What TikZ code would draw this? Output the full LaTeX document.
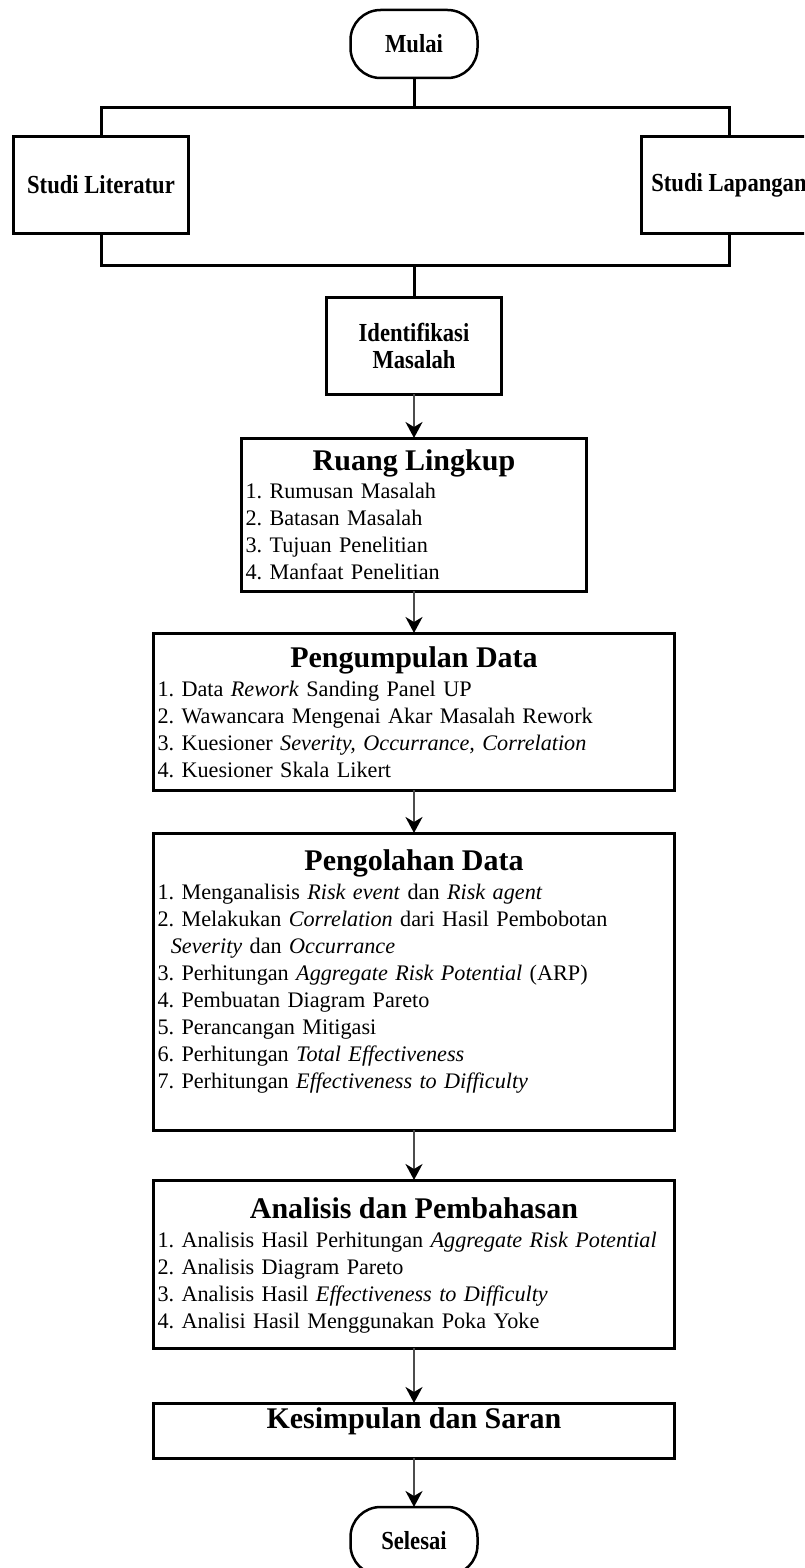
\documentclass[tikz,border=0pt]{standalone}
\usepackage{fontspec}
\setmainfont{Liberation Serif}
\newfontfamily\narrowserif[FakeStretch=0.87]{Liberation Serif}
\usepackage{tikz}
\usetikzlibrary{arrows.meta}
\usetikzlibrary{positioning}

\newcommand{\ttl}{\fontsize{30}{36}\selectfont\bfseries}
\newcommand{\itm}{\fontsize{22.2}{27}\selectfont}
\newcommand{\lbl}{\narrowserif\fontsize{26}{27}\selectfont\bfseries}
\frenchspacing

\begin{document}
\begin{tikzpicture}[x=1pt, y=-1pt,
    terminal/.style={draw, line width=2.5pt, outer sep=0pt, rounded corners=30pt, minimum width=127pt, minimum height=68pt, font=\lbl},
    smallbox/.style={draw, line width=3pt, outer sep=0pt, minimum width=175pt, minimum height=97pt, align=center, font=\lbl},
    listbox/.style={draw, line width=3pt, outer sep=0pt, text width=513pt, inner xsep=4pt, inner ysep=0pt, align=left, font=\itm},
    bar/.style={line width=3pt},
    flow/.style={line width=2pt, draw=black!70, -{Stealth[length=16pt, width=17pt, inset=5pt, color=black]}}]
  \useasboundingbox (0,0) rectangle (804,1568);
  \clip (0,0) rectangle (804,1568);

  \node (mulai) [terminal] at (414,44) {Mulai};
  \coordinate (split) at (414,108);
  \node (lit) [smallbox] at (101,185) {Studi Literatur};
  \node (lap) [smallbox] at (729,185) {Studi Lapangan};
  \coordinate (join) at (414,265);
  \node (idm) [smallbox, below=32pt of join] {Identifikasi\\Masalah};
  \node (ruang) [listbox, text width=337pt, text height=32pt, text depth=121pt, below=44pt of idm] {{\centering\ttl Ruang Lingkup\par}\vspace{1pt}%
    1. Rumusan Masalah\\
    2. Batasan Masalah\\
    3. Tujuan Penelitian\\
    4. Manfaat Penelitian};
  \node (kumpul) [listbox, text height=34pt, text depth=123pt, below=42pt of ruang] {{\centering\ttl Pengumpulan Data\par}\vspace{2pt}%
    1. Data \textit{Rework} Sanding Panel UP\\
    2. Wawancara Mengenai Akar Masalah Rework\\
    3. Kuesioner \textit{Severity, Occurrance, Correlation}\\
    4. Kuesioner Skala Likert};
  \node (olah) [listbox, text height=37pt, text depth=260pt, below=43pt of kumpul] {{\centering\ttl Pengolahan Data\par}\vspace{2pt}%
    1. Menganalisis \textit{Risk event} dan \textit{Risk agent}\\
    2. Melakukan \textit{Correlation} dari Hasil Pembobotan\\
    \hspace*{0.6em}\textit{Severity} dan \textit{Occurrance}\\
    3. Perhitungan \textit{Aggregate Risk Potential} (ARP)\\
    4. Pembuatan Diagram Pareto\\
    5. Perancangan Mitigasi\\
    6. Perhitungan \textit{Total Effectiveness}\\
    7. Perhitungan \textit{Effectiveness to Difficulty}};
  \node (analisis) [listbox, text height=38pt, text depth=130pt, below=50pt of olah] {{\centering\ttl Analisis dan Pembahasan\par}\vspace{2pt}%
    1. Analisis Hasil Perhitungan \textit{Aggregate Risk Potential}\\
    2. Analisis Diagram Pareto\\
    3. Analisis Hasil \textit{Effectiveness to Difficulty}\\
    4. Analisi Hasil Menggunakan Poka Yoke};
  \node (saran) [listbox, text height=25pt, text depth=30pt, below=55pt of analisis] {{\centering\ttl Kesimpulan dan Saran\par}};
  \node (selesai) [terminal, below=49pt of saran] {Selesai};

  % percabangan studi
  \draw[bar] (mulai) -- (split);
  \draw[bar] (lit.north) |- (split) -| (lap.north);
  \draw[bar] (lit.south) |- (join) -| (lap.south);
  \draw[bar] (join) -- (idm);

  % alur utama
  \draw[flow] (idm) -- (ruang);
  \draw[flow] (ruang) -- (kumpul);
  \draw[flow] (kumpul) -- (olah);
  \draw[flow] (olah) -- (analisis);
  \draw[flow] (analisis) -- (saran);
  \draw[flow] (saran) -- (selesai);
\end{tikzpicture}
\end{document}
